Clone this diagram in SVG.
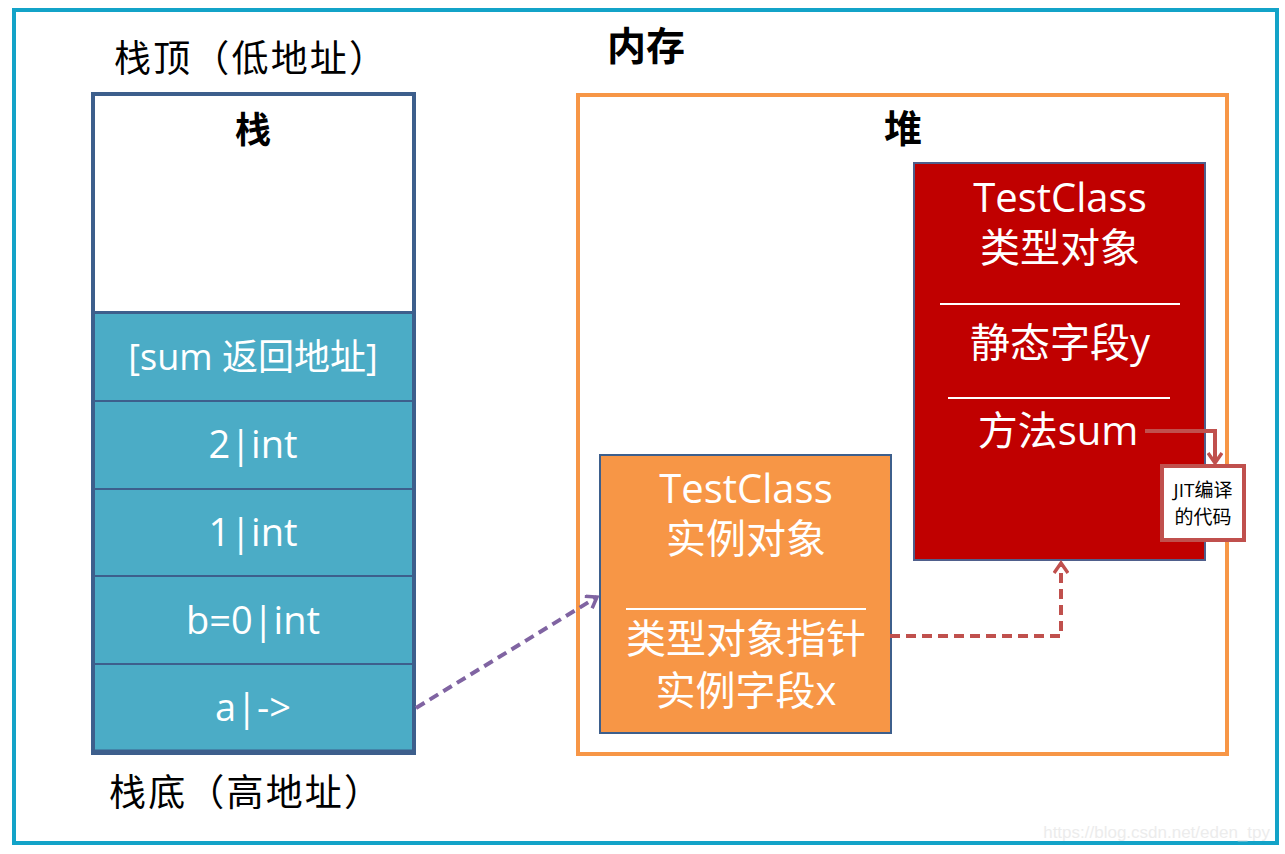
<svg xmlns="http://www.w3.org/2000/svg" width="1285" height="854" viewBox="0 0 1285 854">
<style>
.w{fill:#fff;font-family:"Open Sans","Noto Sans CJK SC",sans-serif;text-anchor:middle}
.hd{fill:#000;font-family:"Noto Sans CJK SC",sans-serif;font-weight:bold;text-anchor:middle}
.sf{fill:#000;font-family:"Liberation Serif","Noto Sans CJK SC",serif;font-size:37px}
.row{fill:#4bacc6;stroke:#3d5f8c;stroke-width:2}
.sep{stroke:#fff;stroke-width:2}
</style>
<defs>
<marker id="ap" markerWidth="16" markerHeight="16" refX="12" refY="8" orient="auto" markerUnits="userSpaceOnUse" viewBox="0 0 16 16">
<path d="M2,1 L12,8 L2,15" fill="none" stroke="#8064a2" stroke-width="3.5"/>
</marker>
<marker id="ar2" markerWidth="16" markerHeight="16" refX="12" refY="8" orient="auto" markerUnits="userSpaceOnUse" viewBox="0 0 16 16">
<path d="M2,1 L12,8 L2,15" fill="none" stroke="#c0504d" stroke-width="3.5"/>
</marker>
</defs>
<rect width="1285" height="854" fill="#fff"/>
<rect id="frame" x="14" y="10" width="1263" height="833" fill="none" stroke="#13a3c8" stroke-width="4"/>
<text class="hd" x="646" y="60" font-size="39">内存</text>

<g id="stack">
<rect x="93" y="94" width="321" height="219" fill="#fff" stroke="#3d5f8c" stroke-width="4"/>
<text class="hd" x="253" y="143" font-size="36">栈</text>
<rect class="row" x="93" y="313" width="321" height="88"/>
<rect class="row" x="93" y="401" width="321" height="88"/>
<rect class="row" x="93" y="489" width="321" height="87"/>
<rect class="row" x="93" y="576" width="321" height="88"/>
<rect class="row" x="93" y="664" width="321" height="88"/>
<rect x="93" y="94" width="321" height="659" fill="none" stroke="#3d5f8c" stroke-width="4"/>
<line x1="91" y1="752" x2="416" y2="752" stroke="#3d5f8c" stroke-width="5"/>
<text class="w" x="253" y="370" font-size="36">[sum 返回地址]</text>
<text class="w" x="253" y="458" font-size="38">2|int</text>
<text class="w" x="253" y="546" font-size="38">1|int</text>
<text class="w" x="253" y="634" font-size="38">b=0|int</text>
<text class="w" x="253" y="721" font-size="38">a|-&gt;</text>
</g>
<text id="stack-top" class="sf" x="114" y="72" textLength="272" lengthAdjust="spacing">栈顶（低地址）</text>
<text id="stack-bottom" class="sf" x="109" y="806" textLength="272" lengthAdjust="spacing">栈底（高地址）</text>

<g id="heap">
<rect x="578" y="95" width="649" height="659" fill="none" stroke="#f79646" stroke-width="4"/>
<text class="hd" x="903" y="142" font-size="38">堆</text>
</g>

<g id="type-object">
<rect x="914" y="163" width="291" height="397" fill="#c00000" stroke="#4f5f8c" stroke-width="2"/>
<text class="w" x="1060" y="212" font-size="40">TestClass</text>
<text class="w" x="1060" y="262" font-size="40">类型对象</text>
<line class="sep" x1="940" y1="304" x2="1180" y2="304"/>
<text class="w" x="1060" y="357" font-size="40">静态字段y</text>
<line class="sep" x1="948" y1="398" x2="1170" y2="398"/>
<text class="w" x="1058" y="445" font-size="40">方法sum</text>
</g>

<g id="instance-object">
<rect x="600" y="455" width="291" height="278" fill="#f79646" stroke="#3d5f8c" stroke-width="2"/>
<text class="w" x="746" y="503" font-size="40">TestClass</text>
<text class="w" x="746" y="553" font-size="40">实例对象</text>
<line class="sep" x1="626" y1="609" x2="866" y2="609"/>
<text class="w" x="746" y="653" font-size="40">类型对象指针</text>
<text class="w" x="746" y="705" font-size="40">实例字段x</text>
</g>

<g id="jit">
<rect x="1162" y="466" width="82" height="74" fill="#fff" stroke="#c0504d" stroke-width="4"/>
<text x="1203" y="497" font-size="19" text-anchor="middle" font-family="'Open Sans','Noto Sans CJK SC',sans-serif" fill="#000">JIT编译</text>
<text x="1203" y="524" font-size="19" text-anchor="middle" font-family="'Open Sans','Noto Sans CJK SC',sans-serif" fill="#000">的代码</text>
</g>

<g id="connectors" fill="none">
<path d="M1145,431 H1215 V463" stroke="#c0504d" stroke-width="4" marker-end="url(#ar2)"/>
<path d="M890,636 H1061 V563" stroke="#c0504d" stroke-width="4" stroke-dasharray="10,6" marker-end="url(#ar2)"/>
<path d="M416,708 L597,597" stroke="#8064a2" stroke-width="4" stroke-dasharray="10,6" marker-end="url(#ap)"/>
</g>
<text x="1270" y="838" font-size="17" text-anchor="end" font-family="'Liberation Sans',sans-serif" fill="#ececec">https://blog.csdn.net/eden_tpy</text>
</svg>
